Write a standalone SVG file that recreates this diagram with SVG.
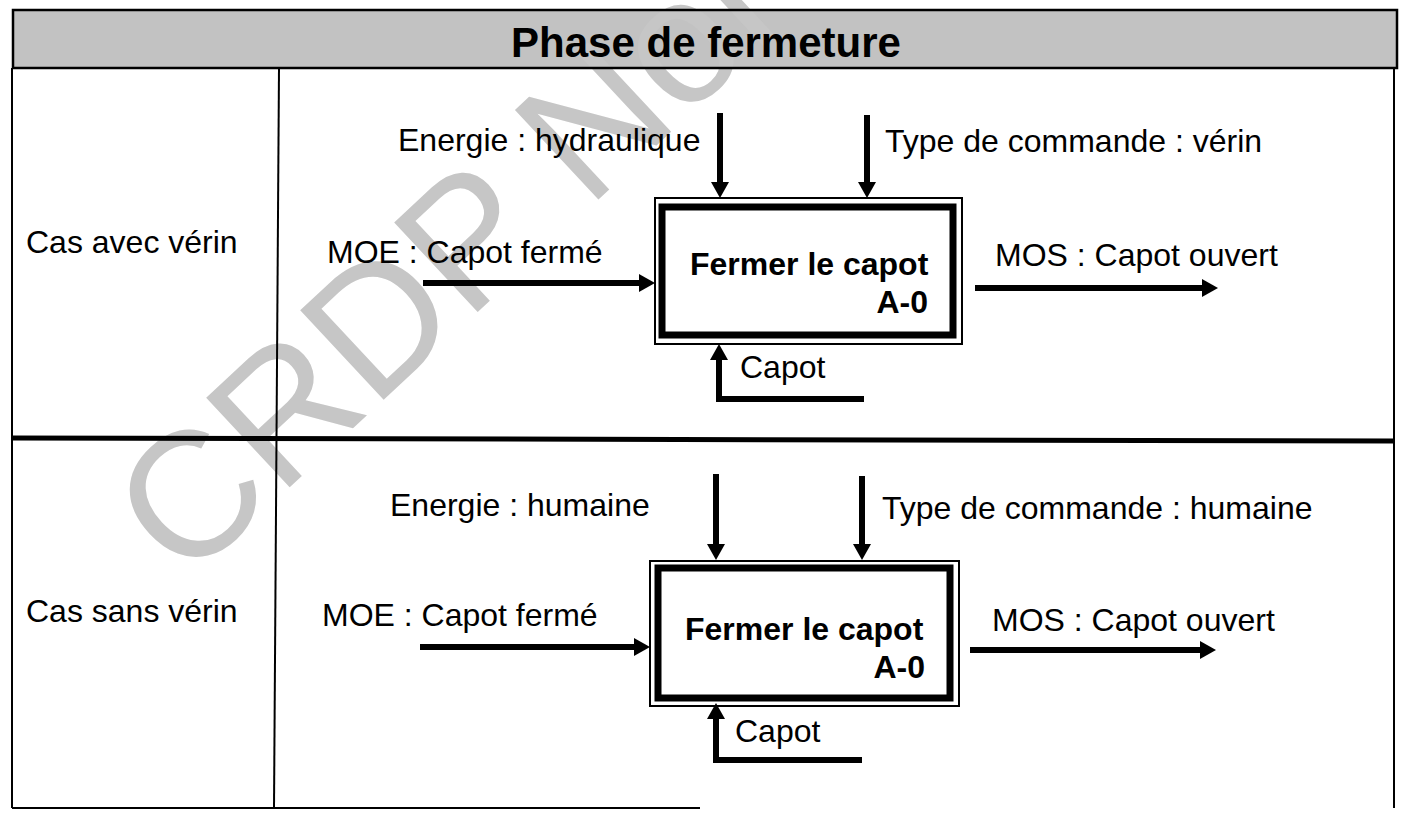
<svg xmlns="http://www.w3.org/2000/svg" width="1402" height="813" viewBox="0 0 1402 813">
<style>
.t{font-family:"Liberation Sans",Arial,sans-serif;font-size:32px;fill:#000}
.b{font-weight:bold}
.frame{stroke:#000;fill:none}
.wm{font-family:"Liberation Sans",Arial,sans-serif;font-size:178px;fill:#c6c6c6}
.c{stroke:#000;stroke-width:6;fill:none}
</style>
<defs>
<marker id="ah" viewBox="0 0 16 18" refX="6" refY="9" markerWidth="16" markerHeight="18" markerUnits="userSpaceOnUse" orient="auto">
<path d="M0,0 L16,9 L0,18 z" fill="#000"/>
</marker>
</defs>
<rect width="1402" height="813" fill="#fff"/>
<g id="title">
<rect x="13" y="10" width="1384" height="58" fill="#c2c2c2"/>
</g>
<text class="wm" transform="translate(185,585) rotate(-43)">CRDP Nord</text>
<g id="table">
<rect class="frame" x="13" y="10" width="1384" height="58" stroke-width="2.5"/>
<line class="frame" x1="12" y1="68" x2="12" y2="808" stroke-width="2"/>
<line class="frame" x1="1394" y1="68" x2="1394" y2="808" stroke-width="2"/>
<line class="frame" x1="279" y1="68" x2="274" y2="808" stroke-width="2"/>
<line class="frame" x1="12" y1="808" x2="700" y2="808" stroke-width="2"/>
<line class="frame" x1="12" y1="438" x2="1394" y2="441" stroke-width="5"/>
<text class="t b" x="706" y="57" text-anchor="middle" style="font-size:42px">Phase de fermeture</text>
<text class="t" x="26" y="253">Cas avec vérin</text>
<text class="t" x="26" y="622">Cas sans vérin</text>
</g>
<g id="node-a0-avec">
<rect class="frame" x="655" y="198" width="307" height="146" stroke-width="2"/>
<rect class="frame" x="662" y="207" width="291" height="128" stroke-width="7"/>
<text class="t b" x="690" y="275">Fermer le capot</text>
<text class="t b" x="928" y="313" text-anchor="end">A-0</text>
</g>
<g id="node-a0-sans">
<rect class="frame" x="650" y="561" width="309" height="145" stroke-width="2"/>
<rect class="frame" x="658" y="568" width="292" height="130" stroke-width="7"/>
<text class="t b" x="685" y="640">Fermer le capot</text>
<text class="t b" x="925" y="678" text-anchor="end">A-0</text>
</g>
<g id="connectors">
<line class="c" x1="720" y1="113" x2="720" y2="188" marker-end="url(#ah)"/>
<line class="c" x1="867" y1="115" x2="867" y2="188" marker-end="url(#ah)"/>
<line class="c" x1="423" y1="283" x2="645" y2="283" stroke-width="5" marker-end="url(#ah)"/>
<line class="c" x1="975" y1="288" x2="1208" y2="288" stroke-width="5" marker-end="url(#ah)"/>
<path class="c" d="M864,399 H719 V354" marker-end="url(#ah)"/>
<line class="c" x1="716" y1="474" x2="716" y2="550" marker-end="url(#ah)"/>
<line class="c" x1="862" y1="476" x2="862" y2="550" marker-end="url(#ah)"/>
<line class="c" x1="420" y1="647" x2="640" y2="647" stroke-width="5" marker-end="url(#ah)"/>
<line class="c" x1="970" y1="650" x2="1206" y2="650" stroke-width="5" marker-end="url(#ah)"/>
<path class="c" d="M862,760 H716 V713" marker-end="url(#ah)"/>
</g>
<g id="labels">
<text class="t" x="398" y="151">Energie : hydraulique</text>
<text class="t" x="885" y="152">Type de commande : vérin</text>
<text class="t" x="327" y="263">MOE : Capot fermé</text>
<text class="t" x="995" y="266">MOS : Capot ouvert</text>
<text class="t" x="740" y="378">Capot</text>
<text class="t" x="390" y="516">Energie : humaine</text>
<text class="t" x="882" y="519">Type de commande : humaine</text>
<text class="t" x="322" y="626">MOE : Capot fermé</text>
<text class="t" x="992" y="631">MOS : Capot ouvert</text>
<text class="t" x="735" y="742">Capot</text>
</g>
</svg>
